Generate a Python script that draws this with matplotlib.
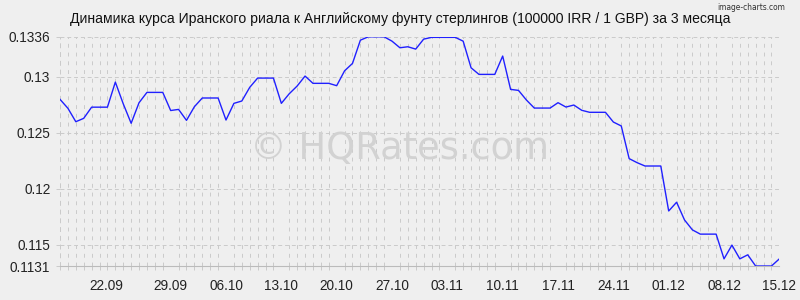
import numpy as np
import matplotlib
matplotlib.use("Agg")
import matplotlib.pyplot as plt
from matplotlib.ticker import MultipleLocator, FixedLocator

plt.rcParams['font.family'] = ['Liberation Sans', 'DejaVu Sans']

# Daily rate, 100000 IRR in GBP, 15.09 .. 15.12
rates = [
    0.1280, 0.1272, 0.1260, 0.1263, 0.1273, 0.1273, 0.1273, 0.12954, 0.1276, 0.12586,
    0.1277, 0.12862, 0.12862, 0.12862, 0.1270, 0.1271, 0.12612, 0.12734, 0.12812, 0.12812,
    0.12812, 0.12615, 0.12764, 0.12785, 0.12907, 0.1299, 0.1299, 0.1299, 0.12764, 0.1285,
    0.12919, 0.13008, 0.12943, 0.12943, 0.12943, 0.12922, 0.13055, 0.13121, 0.13329, 0.13359,
    0.13359, 0.13359, 0.1332, 0.13261, 0.1327, 0.13249, 0.13338, 0.13354, 0.13354, 0.13354,
    0.13354, 0.1332, 0.13082, 0.13023, 0.13023, 0.13023, 0.13187, 0.12889, 0.1288, 0.12794,
    0.12722, 0.12722, 0.12722, 0.1277, 0.12731, 0.12749, 0.12702, 0.12684, 0.12684, 0.12684,
    0.12597, 0.12562, 0.12270, 0.12234, 0.12204, 0.12204, 0.12204, 0.11802, 0.1188, 0.11722,
    0.11633, 0.11595, 0.11595, 0.11595, 0.11374, 0.11497, 0.11374, 0.1141, 0.1131, 0.1131,
    0.1131, 0.11374,
]
days = np.arange(len(rates))

x_tick_pos = [5.9, 14, 21, 28, 35, 42, 49, 56, 63, 70, 77, 84, 91]
x_tick_labels = ['22.09', '29.09', '06.10', '13.10', '20.10', '27.10', '03.11',
                 '10.11', '17.11', '24.11', '01.12', '08.12', '15.12']
y_ticks = [0.1131, 0.115, 0.12, 0.125, 0.13, 0.1336]
y_tick_labels = ['0.1131', '0.115', '0.12', '0.125', '0.13', '0.1336']

bg = '#efefef'
grid_col = '#cacaca'

fig = plt.figure(figsize=(8, 3), dpi=100, facecolor=bg)
ax = fig.add_axes([0.075, 0.1133, 0.8992, 0.7644], facecolor=bg)

ax.plot(days, rates, color='#2020ff', lw=1.0, zorder=3)

ax.set_xlim(0, 91)
ax.set_ylim(0.1131, 0.1336)

ax.xaxis.set_major_locator(FixedLocator(x_tick_pos))
ax.set_xticklabels(x_tick_labels)
ax.xaxis.set_minor_locator(MultipleLocator(1))
ax.set_yticks(y_ticks)
ax.set_yticklabels(y_tick_labels)

ax.tick_params(axis='x', which='major', length=0, pad=9.5, labelsize=9.8, labelcolor='#222222')
ax.tick_params(axis='x', which='minor', length=3, color=grid_col, width=0.7)
ax.tick_params(axis='y', length=3, color=grid_col, width=0.7, pad=4, labelsize=9.8, labelcolor='#222222')

ax.grid(True, axis='x', which='minor', color=grid_col, lw=0.7, ls=(0, (4, 5)))
ax.grid(True, axis='y', which='major', color=grid_col, lw=0.7, ls=(0, (4, 3)))

for s in ['top', 'right']:
    ax.spines[s].set_visible(False)
ax.spines['left'].set_color(grid_col)
ax.spines['left'].set_linestyle((0, (4, 5)))
ax.spines['left'].set_linewidth(0.7)
ax.spines['bottom'].set_color('#bbbbbb')
ax.spines['bottom'].set_linewidth(0.8)

fig.text(0.5, 0.938, 'Динамика курса Иранского риала к Английскому фунту стерлингов (100000 IRR / 1 GBP) за 3 месяца',
         ha='center', va='center', fontsize=10.1, color='#111111')
fig.text(0.982, 0.99, 'image-charts.com', ha='right', va='top', fontsize=6, color='#333333',
         family=['DejaVu Sans'], fontstretch='condensed')
fig.text(0.5, 0.505, '© HQRates.com', ha='center', va='center', fontsize=26.5,
         color='#d2d2d2', family=['DejaVu Sans'], zorder=1)

fig.savefig('out.png', dpi=100, facecolor=bg)
